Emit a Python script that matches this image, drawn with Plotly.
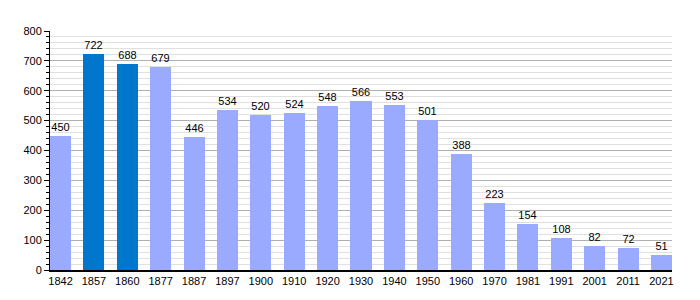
import plotly.graph_objects as go

years = ["1842", "1857", "1860", "1877", "1887", "1897", "1900", "1910", "1920", "1930",
         "1940", "1950", "1960", "1970", "1981", "1991", "2001", "2011", "2021"]
population = [450, 722, 688, 679, 446, 534, 520, 524, 548, 566,
              553, 501, 388, 223, 154, 108, 82, 72, 51]
highlight = [False, True, True] + [False] * 16

light = "#99AAFF"
dark = "#0077CC"
colors = [dark if h else light for h in highlight]
idx = list(range(len(years)))

fig = go.Figure(go.Bar(
    x=idx, y=population, width=0.63, marker=dict(color=colors, line=dict(width=0)),
    text=[str(v) for v in population], textposition="outside",
    textfont=dict(family="Liberation Sans, Arial", size=11, color="#000"),
    cliponaxis=False,
))

fig.update_layout(
    width=700, height=300,
    margin=dict(l=50, r=28, t=31, b=30),
    paper_bgcolor="white", plot_bgcolor="white",
    font=dict(family="Liberation Sans, Arial", size=11, color="#000"),
    showlegend=False,
    bargap=0,
)
fig.update_xaxes(
    range=[-0.315, 18.315], tickmode="array", tickvals=idx, ticktext=years,
    showline=True, linecolor="#000", linewidth=1.5, showgrid=False, ticks="",
    zeroline=False,
)
fig.update_yaxes(
    range=[0, 800], dtick=100, showline=True, linecolor="#000", linewidth=1,
    ticks="outside", ticklen=5, tickcolor="#000",
    showgrid=True, gridcolor="#B0B0B0", gridwidth=1, zeroline=False,
    minor=dict(dtick=20, showgrid=True, gridcolor="#E0E0E0", ticks="outside",
               ticklen=3, tickcolor="#000"),
)

fig.write_html("out.html")
